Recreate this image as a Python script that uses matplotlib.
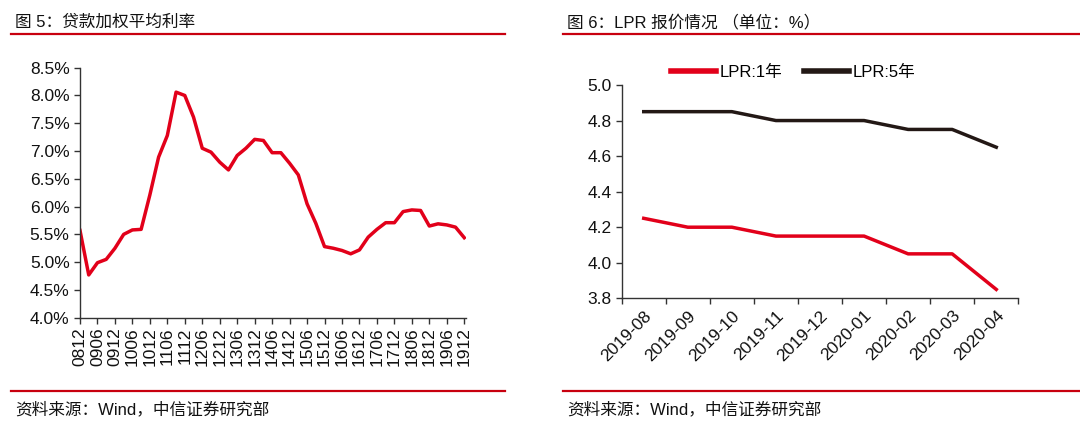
import numpy as np
import matplotlib.pyplot as plt
from matplotlib.lines import Line2D

plt.rcParams['font.family'] = ['Liberation Sans', 'Noto Sans CJK SC', 'DejaVu Sans']

RED = '#E2001A'
BLACK = '#231815'
RULE = '#C8000F'

# left chart: quarterly weighted average lending rate, 0812 .. 1912
quarters = [f"{y:02d}{m:02d}" for y in range(8, 20) for m in (3, 6, 9, 12)][3:]
loan_rate = [5.57, 4.77, 4.99, 5.05, 5.25, 5.50, 5.58, 5.59, 6.21, 6.89,
             7.28, 8.06, 8.00, 7.61, 7.05, 6.98, 6.80, 6.66, 6.92, 7.05,
             7.21, 7.19, 6.97, 6.97, 6.78, 6.57, 6.05, 5.70, 5.28, 5.25,
             5.21, 5.15, 5.22, 5.45, 5.59, 5.71, 5.71, 5.91, 5.94, 5.93,
             5.65, 5.69, 5.67, 5.63, 5.44]

# right chart: LPR quotes
months = ['2019-08', '2019-09', '2019-10', '2019-11', '2019-12',
          '2020-01', '2020-02', '2020-03', '2020-04']
lpr_1y = [4.25, 4.20, 4.20, 4.15, 4.15, 4.15, 4.05, 4.05, 3.85]
lpr_5y = [4.85, 4.85, 4.85, 4.80, 4.80, 4.80, 4.75, 4.75, 4.65]

W, H = 1080, 425
TICK_FS = 12.5
TEXT_FS = 12
fig = plt.figure(figsize=(W / 100, H / 100), dpi=100)


def px_axes(x0, y0, x1, y1):
    return fig.add_axes([x0 / W, 1 - y1 / H, (x1 - x0) / W, (y1 - y0) / H])


def style(ax):
    for s in ('top', 'right'):
        ax.spines[s].set_visible(False)
    for s in ('left', 'bottom'):
        ax.spines[s].set_color('#333333')
        ax.spines[s].set_linewidth(1.0)
    ax.tick_params(direction='out', length=4, width=1.0, color='#333333',
                   labelsize=TICK_FS, labelcolor='#111111')


# ---- left panel
ax1 = px_axes(80, 67.7, 466, 317.7)
style(ax1)
x = np.arange(len(quarters))
ax1.plot(x, loan_rate, color=RED, lw=2.5)
ax1.set_xlim(0, len(quarters) - 0.8)
ax1.set_ylim(4.0, 8.5)
ax1.set_yticks(np.arange(4.0, 8.51, 0.5))
ax1.set_yticklabels([f"{v:.1f}%" for v in np.arange(4.0, 8.51, 0.5)])
ax1.set_xticks(x[::2])
ax1.set_xticklabels(quarters[::2], rotation=90)
ax1.tick_params(axis='x', pad=3)

# ---- right panel
ax2 = px_axes(621.7, 85, 1018.3, 298.3)
style(ax2)
xm = np.arange(len(months))
ax2.plot(xm, lpr_1y, color=RED, lw=2.5)
ax2.plot(xm, lpr_5y, color=BLACK, lw=2.5)
ax2.set_xlim(-0.5, len(months) - 0.5)
ax2.set_ylim(3.8, 5.0)
ax2.set_yticks(np.arange(3.8, 5.01, 0.2))
ax2.set_yticklabels([f"{v:.1f}" for v in np.arange(3.8, 5.01, 0.2)])
ax2.set_xticks(np.arange(-0.5, len(months), 1.0))
ax2.set_xticklabels([])
ax2.set_xticks(xm, minor=True)
ax2.set_xticklabels(months, minor=True, rotation=45, ha='right',
                    rotation_mode='anchor')
ax2.tick_params(axis='x', which='minor', length=0, pad=7,
                labelsize=TICK_FS, labelcolor='#111111')

handles = [Line2D([], [], color=RED, lw=4), Line2D([], [], color=BLACK, lw=4)]
fig.legend(handles, ['LPR:1年', 'LPR:5年'], loc='center',
           bbox_to_anchor=(793 / W, 1 - 72 / H), ncol=2, frameon=False,
           fontsize=TEXT_FS, handlelength=2.7, handletextpad=0.2,
           columnspacing=1.3)

# ---- titles, rules and sources
fig.text(15 / W, 1 - 22 / H, '图 5：贷款加权平均利率', fontsize=TEXT_FS,
         va='center', ha='left', color='#111111')
fig.text(567 / W, 1 - 22 / H, '图 6：LPR 报价情况 （单位：%）', fontsize=TEXT_FS,
         va='center', ha='left', color='#111111')
for x0, x1 in ((11, 505), (563, 1080)):
    for yy in (34.3, 390.7):
        fig.add_artist(Line2D([x0 / W, x1 / W], [1 - yy / H, 1 - yy / H],
                              color=RULE, lw=1.6))
for x0 in (15, 567):
    fig.text(x0 / W, 1 - 409 / H, '资料来源：Wind，中信证券研究部',
             fontsize=TEXT_FS, va='center', ha='left', color='#111111')

fig.savefig('out.png', dpi=100)
